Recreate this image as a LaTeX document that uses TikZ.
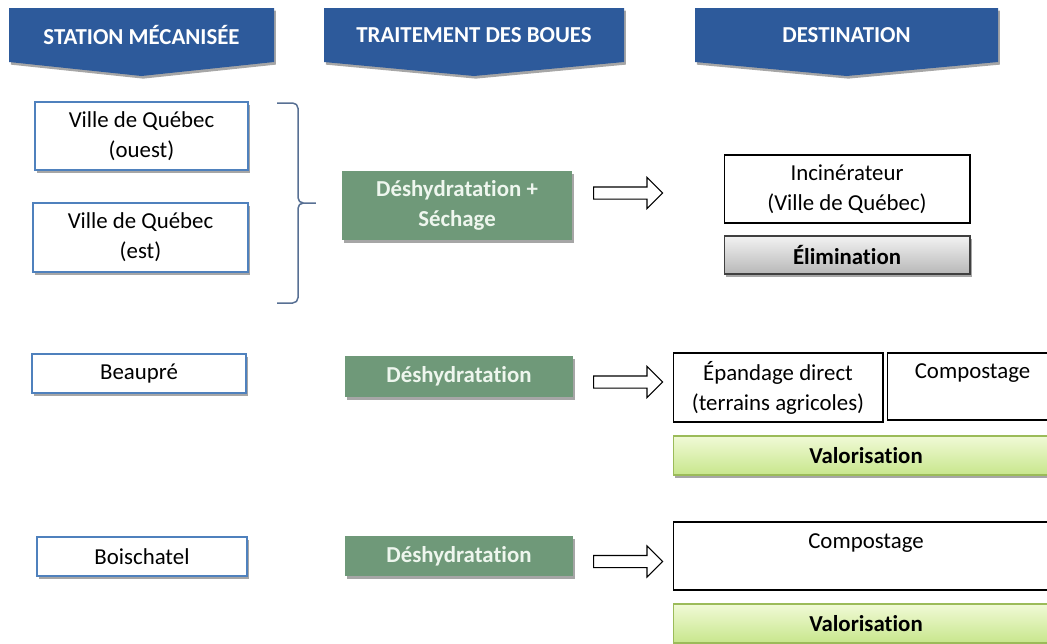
\documentclass[tikz,border=0pt]{standalone}
\usepackage{fontspec}
\setmainfont[Ligatures=NoCommon]{Carlito}
\usetikzlibrary{shapes.arrows,shadows}
\definecolor{hdrblue}{RGB}{45,90,155}
\definecolor{stnblue}{RGB}{79,129,189}
\definecolor{procgreen}{RGB}{111,153,121}
\definecolor{proctext}{RGB}{238,246,238}
\definecolor{bracecol}{RGB}{88,112,148}
\definecolor{valtop}{RGB}{240,250,214}
\definecolor{valbot}{RGB}{200,230,140}
\definecolor{valedge}{RGB}{155,187,89}
\tikzset{
  shd/.style={drop shadow={shadow xshift=1pt, shadow yshift=-1.5pt, opacity=.35, fill=black}},
  hdr/.style={text=white, font=\bfseries\fontsize{13}{16}\selectfont},
  stn/.style={draw=stnblue, line width=.7pt, fill=white, align=center, inner sep=0pt, shd},
  proc/.style={fill=procgreen, text=proctext, font=\bfseries\fontsize{13}{17}\selectfont,
    align=center, inner sep=0pt, shd},
  dest/.style={draw=black, line width=.6pt, fill=white, align=center, inner sep=0pt},
  elim/.style={draw=black!75, line width=.6pt, top color=black!5, bottom color=black!28,
    font=\bfseries\fontsize{13}{17}\selectfont, inner sep=0pt, shd},
  valor/.style={draw=valedge, line width=.6pt, top color=valtop, bottom color=valbot,
    font=\bfseries\fontsize{13}{17}\selectfont, inner sep=0pt, shd},
  flow/.style={single arrow, draw=black, fill=white, line width=.6pt, anchor=tail,
    minimum height=1.38cm, inner xsep=0pt, inner ysep=.11cm,
    single arrow head extend=.19cm, single arrow tip angle=90}
}
\begin{document}
\begin{tikzpicture}[x=.02cm, y=-.02cm, every node/.style={font=\fontsize{13}{17}\selectfont}]
  \useasboundingbox (0,0) rectangle (1047,643);
  \clip (0,0) rectangle (1047,643);
  % column headers
  \foreach \a/\b/\n/\t in {9/274/hstation/STATION MÉCANISÉE,
      324/624/htraitement/TRAITEMENT DES BOUES, 695/998/hdest/DESTINATION} {
    \pgfmathsetmacro\c{(\a+\b)/2}
    \fill[hdrblue, shd] (\a,8) -- (\b,8) -- (\b,62) -- (\c,76) -- (\a,62) -- cycle;
    \node[hdr] (\n) at (\c,35) {\t};
  }
  % stations
  \node[stn, minimum width=4.26cm, minimum height=1.36cm] (ouest) at (141.5,136) {Ville de Québec\\(ouest)};
  \node[stn, minimum width=4.30cm, minimum height=1.38cm] (est) at (140.5,237.5) {Ville de Québec\\(est)};
  \node[stn, minimum width=4.28cm, minimum height=.78cm] (beaupre) at (139,373.5) {Beaupré};
  \node[stn, minimum width=4.20cm, minimum height=.78cm] (boischatel) at (142,556.5) {Boischatel};
  % brace
  \draw[bracecol, line width=.85pt, rounded corners=3pt]
    (277,103) -- (298,103) -- (298,203) -- (319,203) -- (298,203) -- (298,303) -- (277,303);
  % treatment
  \node[proc, minimum width=4.60cm, minimum height=1.38cm] (seche) at (457,205.5) {Déshydratation +\\Séchage};
  \node[proc, minimum width=4.56cm, minimum height=.82cm] (deshA) at (459,376.5) {Déshydratation};
  \node[proc, minimum width=4.56cm, minimum height=.80cm] (deshB) at (459,556) {Déshydratation};
  % arrows
  \node[flow] (fA) at (593,193) {};
  \node[flow] (fB) at (593,382) {};
  \node[flow] (fC) at (593,561.5) {};
  % destinations
  \node[dest, minimum width=4.92cm, minimum height=1.36cm] (incin) at (847,189) {Incinérateur\\(Ville de Québec)};
  \node[elim, minimum width=4.92cm, minimum height=.76cm] (elimin) at (847,255) {Élimination};
  \node[dest, minimum width=4.20cm, minimum height=1.38cm] (epand) at (778,387.5) {Épandage direct\\(terrains agricoles)};
  \node[dest, minimum width=3.42cm, minimum height=1.34cm] (compA) at (972.5,386.5) {Compostage\\~};
  \node[valor, minimum width=7.72cm, minimum height=.78cm] (valA) at (866,455.5) {Valorisation};
  \node[dest, minimum width=7.72cm, minimum height=1.36cm] (compB) at (866,556) {Compostage\\~};
  \node[valor, minimum width=7.72cm, minimum height=.78cm] (valB) at (866,623.5) {Valorisation};
\end{tikzpicture}
\end{document}
